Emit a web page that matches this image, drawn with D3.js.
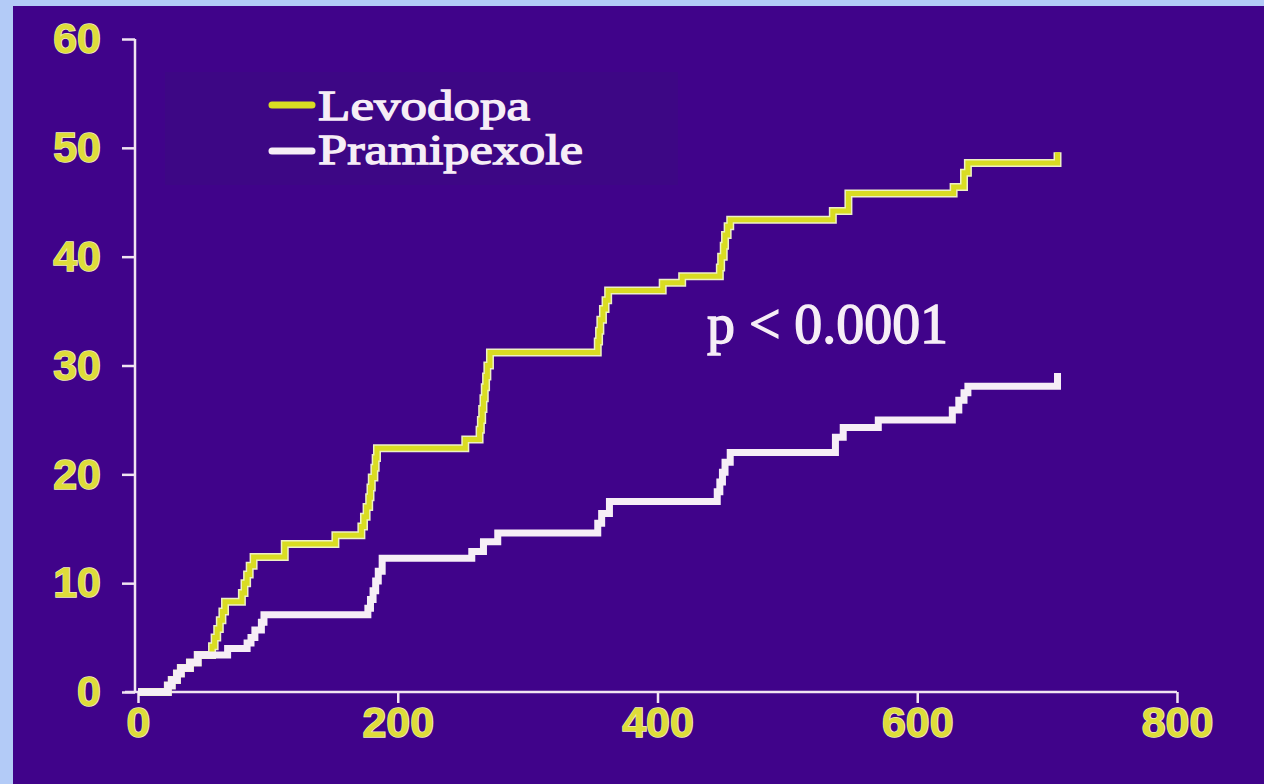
<!DOCTYPE html>
<html>
<head>
<meta charset="utf-8">
<script src="https://cdn.jsdelivr.net/npm/d3@7"></script>
<style>
    html, body { margin: 0; padding: 0; background: #b3cbf7; }
    #chart { width: 1264px; height: 784px; }
</style>
</head>
<body>
<div id="chart"></div>
<script>

// days since start / cumulative % of patients (step curves)
let levodopaDays = [0, 23, 26, 30, 33, 40, 46, 57, 59, 61, 63, 65, 67, 80, 82, 84, 86, 89, 113, 152,
    172, 174, 176, 178, 179, 180, 182, 183, 184, 252, 263, 264, 265, 266, 267, 268, 269, 271,
    354, 355, 356, 358, 360, 362, 404, 419, 448, 449, 451, 452, 454, 456, 535, 547, 628, 636, 639, 708];
let levodopaPct = [0, 0.6, 1.1, 1.7, 2.2, 2.7, 3.4, 4.2, 5.0, 5.8, 6.6, 7.4, 8.3, 9.1, 10.0, 10.8, 11.6, 12.4, 13.6, 14.4,
    15.2, 16.1, 17.0, 17.9, 18.8, 19.7, 20.6, 21.5, 22.4, 23.2, 24.1, 25.0, 26.0, 27.0, 28.0, 29.0, 30.0, 31.2,
    32.2, 33.2, 34.2, 35.2, 36.0, 36.9, 37.6, 38.2, 39.0, 40.0, 41.0, 42.0, 42.8, 43.4, 44.2, 45.8, 46.4, 47.7, 48.6, 49.6];

let pramipexoleDays = [0, 23, 26, 30, 33, 40, 46, 69, 84, 87, 90, 95, 97, 177, 179, 181, 183, 185, 188,
    257, 266, 277, 354, 357, 363, 446, 448, 450, 452, 456, 537, 543, 570, 627, 632, 636, 639, 708];
let pramipexolePct = [0, 0.6, 1.1, 1.7, 2.2, 2.7, 3.4, 4.0, 4.5, 5.0, 5.7, 6.4, 7.1, 7.7, 8.5, 9.3, 10.2, 11.1, 12.3,
    12.9, 13.8, 14.6, 15.5, 16.4, 17.5, 18.4, 19.3, 20.2, 21.1, 22.0, 23.4, 24.3, 25.0, 25.9, 26.8, 27.5, 28.1, 29.3];

let xTicks = [0, 200, 400, 600, 800];
let yTicks = [0, 10, 20, 30, 40, 50, 60];

let seriesNames = ["Levodopa", "Pramipexole"];
let pValueLabel = "p < 0.0001";

let vis = {};

vis.width = 1264;
vis.height = 784;

vis.svg = d3.select("#chart").append("svg")
    .attr("width", vis.width)
    .attr("height", vis.height);

// purple slide panel
vis.svg.append("rect")
    .attr("x", 13)
    .attr("y", 6)
    .attr("width", vis.width - 13)
    .attr("height", vis.height - 6)
    .attr("fill", "#40038a");

// faint legend box
vis.svg.append("rect")
    .attr("x", 165)
    .attr("y", 72)
    .attr("width", 513)
    .attr("height", 113)
    .attr("fill", "#3d0785");

vis.x = d3.scaleLinear()
    .domain([0, 800])
    .range([138, 1177]);

vis.y = d3.scaleLinear()
    .domain([0, 60])
    .range([692, 39]);

vis.xAxis = d3.axisBottom(vis.x)
    .tickValues(xTicks)
    .tickSize(11)
    .tickPadding(3)
    .tickFormat(d3.format("d"));

vis.yAxis = d3.axisLeft(vis.y)
    .tickValues(yTicks)
    .tickSize(13)
    .tickPadding(21)
    .tickFormat(d3.format("d"));

let xg = vis.svg.append("g")
    .attr("class", "x-axis axis")
    .attr("transform", "translate(0," + vis.y(0) + ")")
    .call(vis.xAxis);

let yg = vis.svg.append("g")
    .attr("class", "y-axis axis")
    .attr("transform", "translate(" + (vis.x(0) - 3) + ",0)")
    .call(vis.yAxis);

// axis look: pale lines, no end caps, bold yellow numbers
[xg, yg].forEach(g => {
    g.select(".domain").remove();
    g.selectAll(".tick line")
        .attr("stroke", "#f1e4f2")
        .attr("stroke-width", 2.5);
    g.selectAll(".tick text")
        .attr("fill", "#dedc3a")
        .attr("stroke", "#f3f0b8")
        .attr("stroke-width", 1.5)
        .attr("paint-order", "stroke")
        .style("font-family", "'Liberation Sans', Arial, sans-serif")
        .style("font-weight", "bold")
        .style("font-size", "43px");
});

// x axis line runs a little past the y axis on the left
vis.svg.append("line")
    .attr("x1", 125).attr("x2", vis.x(800))
    .attr("y1", vis.y(0)).attr("y2", vis.y(0))
    .attr("stroke", "#f1e4f2")
    .attr("stroke-width", 2.5);

vis.svg.append("line")
    .attr("x1", vis.x(0) - 3).attr("x2", vis.x(0) - 3)
    .attr("y1", vis.y(60)).attr("y2", vis.y(0))
    .attr("stroke", "#f1e4f2")
    .attr("stroke-width", 2.5);

vis.line = d3.line()
    .x(d => vis.x(d[0]))
    .y(d => vis.y(d[1]))
    .curve(d3.curveStepAfter);

let levodopa = levodopaDays.map((d, i) => [d, levodopaPct[i]]);
let pramipexole = pramipexoleDays.map((d, i) => [d, pramipexolePct[i]]);

// levodopa: yellow with a pale rim
vis.svg.append("path")
    .datum(levodopa)
    .attr("d", vis.line)
    .attr("fill", "none")
    .attr("stroke", "#eef0c4")
    .attr("stroke-width", 8);

vis.svg.append("path")
    .datum(levodopa)
    .attr("d", vis.line)
    .attr("fill", "none")
    .attr("stroke", "#d9dc22")
    .attr("stroke-width", 5);

// pramipexole on top
vis.svg.append("path")
    .datum(pramipexole)
    .attr("d", vis.line)
    .attr("fill", "none")
    .attr("stroke", "#f6eef6")
    .attr("stroke-width", 7);

// legend
let legendColors = ["#d9dc22", "#f6eef6"];
let legendY = [105, 151];
let legendBase = [120, 164];
let legendLen = [212, 265];

seriesNames.forEach((name, i) => {
    vis.svg.append("line")
        .attr("x1", 272).attr("x2", 312)
        .attr("y1", legendY[i]).attr("y2", legendY[i])
        .attr("stroke", legendColors[i])
        .attr("stroke-width", 7)
        .attr("stroke-linecap", "round");

    vis.svg.append("text")
        .attr("x", 318)
        .attr("y", legendBase[i])
        .attr("textLength", legendLen[i])
        .attr("lengthAdjust", "spacingAndGlyphs")
        .attr("fill", "#f6eef6")
        .attr("stroke", "#f6eef6")
        .attr("stroke-width", 1.3)
        .style("font-family", "'Liberation Serif', 'Times New Roman', serif")
        .style("font-size", "43px")
        .text(name);
});

// p value
vis.svg.append("text")
    .attr("x", 707)
    .attr("y", 343)
    .attr("textLength", 241)
    .attr("lengthAdjust", "spacingAndGlyphs")
    .attr("fill", "#f6eef6")
    .attr("stroke", "#f6eef6")
    .attr("stroke-width", 1.4)
    .style("font-family", "'Liberation Serif', 'Times New Roman', serif")
    .style("font-size", "57px")
    .text(pValueLabel);

</script>
</body>
</html>
